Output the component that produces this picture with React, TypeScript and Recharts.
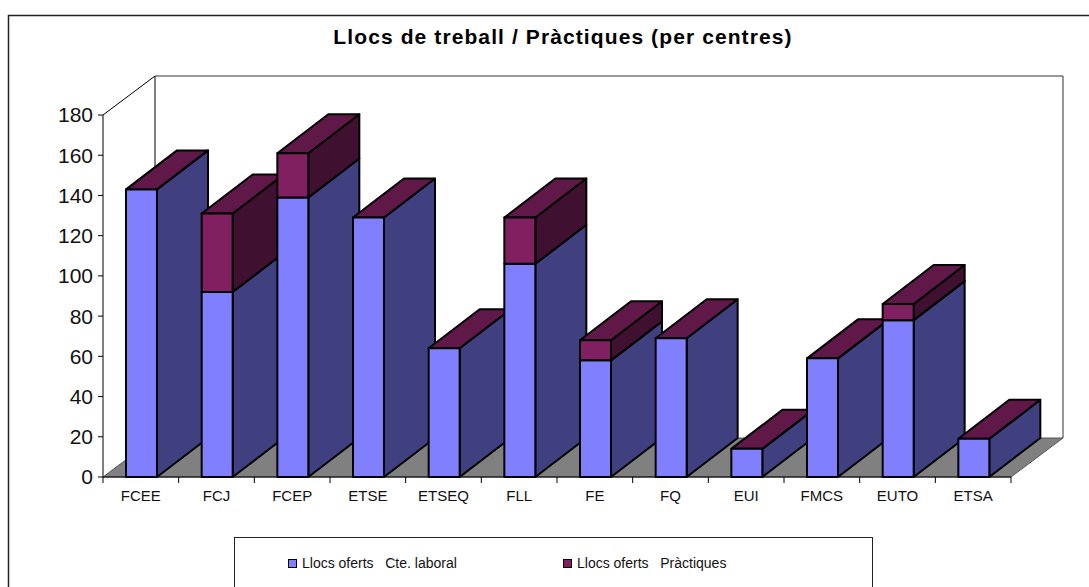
import { BarChart, Bar, XAxis, YAxis, Legend, Customized } from 'recharts';

const centres = ['FCEE', 'FCJ', 'FCEP', 'ETSE', 'ETSEQ', 'FLL', 'FE', 'FQ', 'EUI', 'FMCS', 'EUTO', 'ETSA'];
const laboral = [143, 92, 139, 129, 64, 106, 58, 69, 14, 59, 78, 19];
const practiques = [0, 39, 22, 0, 0, 23, 10, 0, 0, 0, 8, 0];
const yTicks = [0, 20, 40, 60, 80, 100, 120, 140, 160, 180];

const table = centres.map((name, i) => ({ name, laboral: laboral[i], practiques: practiques[i] }));

const FONT = '"Liberation Sans", Arial, sans-serif';
const W = 1089;
const H = 587;
const LEFT = 103;
const RIGHT = 1011;
const TOP = 115;
const BOTTOM = 477;
const DX = 51;
const DY = 39;
const BAND = (RIGHT - LEFT) / centres.length;

const BLUE = { front: '#8080ff', side: '#404080' };
const WINE = { front: '#802060', side: '#401030', top: '#601848' };

function Backdrop() {
  return (
    <g>
      <text x={563} y={44} textAnchor="middle" fontFamily={FONT} fontSize={21} fontWeight="bold" letterSpacing={1.1} fill="#000">
        Llocs de treball / Pràctiques (per centres)
      </text>
      <polyline points={`8.5,${H} 8.5,15.5 ${W},15.5`} fill="none" stroke="#222" strokeWidth={1.5} />
      <polygon
        points={`${LEFT},${BOTTOM} ${LEFT + DX + 1},${BOTTOM - DY} ${RIGHT + DX + 1},${BOTTOM - DY} ${RIGHT},${BOTTOM}`}
        fill="#808080"
        stroke="#555"
      />
      <polyline
        points={`${LEFT},${TOP} ${LEFT + DX + 1},${TOP - DY} ${LEFT + DX + 1},${BOTTOM - DY}`}
        fill="none"
        stroke="#000"
      />
      <polyline
        points={`${LEFT + DX + 1},${TOP - DY} ${RIGHT + DX + 1},${TOP - DY} ${RIGHT + DX + 1},${BOTTOM - DY}`}
        fill="none"
        stroke="#333"
      />
    </g>
  );
}

function Block({ x, y, w, h, front, side, top }: any) {
  const line = { stroke: '#000', strokeWidth: 2, strokeLinejoin: 'round' as const };
  return (
    <g>
      <polygon
        points={`${x + w},${y} ${x + w + DX},${y - DY} ${x + w + DX},${y + h - DY} ${x + w},${y + h}`}
        fill={side}
        {...line}
      />
      {top && (
        <polygon
          points={`${x},${y} ${x + DX},${y - DY} ${x + w + DX},${y - DY} ${x + w},${y}`}
          fill={top}
          {...line}
        />
      )}
      <rect x={x} y={y} width={w} height={h} fill={front} {...line} />
    </g>
  );
}

// the whole column is painted from the first series so that each centre covers the one behind it
function Column(props: any) {
  const { y, width, height, payload } = props;
  const x = props.x + 1;
  const perUnit = height / payload.laboral;
  const extra = payload.practiques * perUnit;
  return (
    <g>
      <Block x={x} y={y} w={width} h={height} front={BLUE.front} side={BLUE.side} top={extra > 0 ? undefined : WINE.top} />
      {extra > 0 && (
        <Block x={x} y={y - extra} w={width} h={extra} front={WINE.front} side={WINE.side} top={WINE.top} />
      )}
    </g>
  );
}

function CentreTick(props: any) {
  const { x, payload, index } = props;
  const left = x - BAND / 2;
  return (
    <g>
      <line x1={left} x2={left} y1={BOTTOM} y2={BOTTOM + 6} stroke="#000" />
      {index === centres.length - 1 && (
        <line x1={left + BAND} x2={left + BAND} y1={BOTTOM} y2={BOTTOM + 6} stroke="#000" />
      )}
      <text x={x} y={BOTTOM + 24} textAnchor="middle" fontFamily={FONT} fontSize={15} fill="#111">
        {payload.value}
      </text>
    </g>
  );
}

function LegendBox({ payload }: any) {
  return (
    <div
      style={{
        boxSizing: 'border-box',
        width: 639,
        height: 50,
        border: '1px solid #222',
        borderBottom: 'none',
        position: 'relative',
        fontFamily: FONT,
        fontSize: 14,
        color: '#111',
      }}
    >
      {(payload || []).map((entry: any, i: number) => (
        <div key={entry.value} style={{ position: 'absolute', left: i === 0 ? 53 : 328, top: 17, display: 'flex', alignItems: 'center', whiteSpace: 'pre' }}>
          <span
            style={{
              boxSizing: 'border-box',
              display: 'inline-block',
              width: 9,
              height: 9,
              marginRight: 5,
              background: entry.color,
              border: '1.5px solid #000',
            }}
          />
          {entry.value}
        </div>
      ))}
    </div>
  );
}

export default function App() {
  return (
    <div style={{ position: 'fixed', left: 0, top: 0, width: W, height: H, overflow: 'hidden', background: '#fff' }}>
      <BarChart
        width={W}
        height={H}
        data={table}
        barSize={31}
        margin={{ left: LEFT - 60, right: W - RIGHT, top: TOP, bottom: H - BOTTOM - 40 }}
      >
        <Customized component={Backdrop} />
        <XAxis
          dataKey="name"
          height={40}
          interval={0}
          tickLine={false}
          tick={CentreTick}
          axisLine={{ stroke: '#000' }}
        />
        <YAxis
          width={60}
          domain={[0, 180]}
          ticks={yTicks}
          interval={0}
          tickSize={5}
          tickMargin={5}
          axisLine={{ stroke: '#000' }}
          tickLine={{ stroke: '#000' }}
          tick={{ fontFamily: FONT, fontSize: 21, fill: '#111' }}
        />
        <Legend
          layout="horizontal"
          verticalAlign="middle"
          align="center"
          content={LegendBox}
          wrapperStyle={{ position: 'absolute', left: 234, top: 537, width: 639, height: 50 }}
        />
        <Bar dataKey="laboral" name="Llocs oferts   Cte. laboral" stackId="a" fill={BLUE.front} shape={Column} isAnimationActive={false} />
        <Bar dataKey="practiques" name="Llocs oferts   Pràctiques" stackId="a" fill={WINE.front} shape={() => <g />} isAnimationActive={false} />
      </BarChart>
    </div>
  );
}
